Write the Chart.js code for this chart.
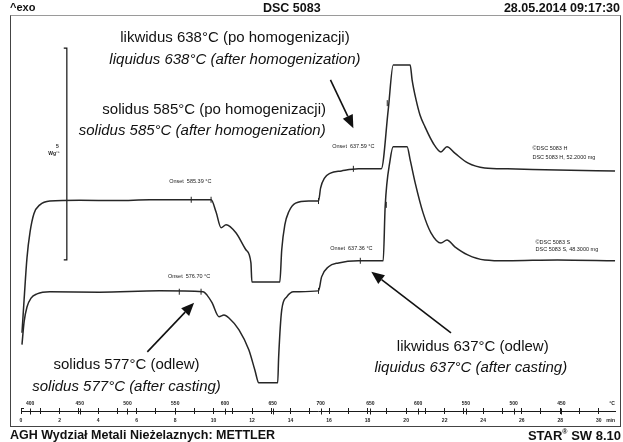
<!DOCTYPE html>
<html><head><meta charset="utf-8"><title>DSC 5083</title>
<script src="https://cdn.jsdelivr.net/npm/chart.js@4.4.1/dist/chart.umd.min.js"></script>
<style>
html,body{margin:0;padding:0;background:#fff;}
#wrap{position:relative;width:623px;height:442px;overflow:hidden;font-family:"Liberation Sans",Arial,Helvetica,sans-serif;color:#111;}
#c{position:absolute;left:0;top:0;}
#frame{position:absolute;left:10px;top:15px;width:609px;height:410px;border:1px solid #444;border-top-color:#9a9a9a;}
.t{position:absolute;font-weight:bold;white-space:nowrap;line-height:1;}
.t sup{font-size:7px;vertical-align:top;position:relative;top:-1px;}
</style></head><body>
<div id="wrap">
<div id="frame"></div>
<canvas id="c" width="623" height="442"></canvas>
<div class="t" style="left:10px;top:2px;font-size:11px;">^exo</div>
<div class="t" style="left:263px;top:2px;font-size:12.5px;">DSC 5083</div>
<div class="t" style="right:3px;top:2px;font-size:12.5px;">28.05.2014 09:17:30</div>
<div class="t" style="left:10px;top:429px;font-size:12.5px;">AGH Wydział Metali Nieżelaznych: METTLER</div>
<div class="t" style="right:2px;top:429px;font-size:13px;">STAR<sup>®</sup> SW 8.10</div>
</div>
<script>
// ---- data (time in min, heat flow in W/g, exo up) ----
const tH = [0.05,0.16,0.31,0.47,0.67,0.98,1.50,3.05,5.00,6.67,8.84,9.87,10.13,10.39,10.65,11.16,11.68,11.94,11.99,13.44,13.54,13.70,13.90,14.26,14.94,15.45,15.56,15.76,16.07,16.64,17.52,18.71,19.07,19.33,20.21,20.31,20.52,20.72,20.98,21.40,21.81,22.12,22.53,23.20,24.08,25.27,27.86,30.85];
const vH = [1.44,2.22,3.21,3.82,4.25,4.46,4.55,4.57,4.56,4.58,4.58,4.58,4.29,3.92,3.99,3.80,3.40,3.09,2.64,2.64,3.40,3.99,4.29,4.50,4.55,4.55,4.86,5.09,5.21,5.26,5.31,5.31,6.70,7.76,7.76,7.41,6.93,6.58,6.30,5.92,5.71,5.83,5.68,5.45,5.33,5.31,5.28,5.26];
const tS = [0.05,0.16,0.31,0.52,0.83,1.50,4.08,7.18,9.46,9.66,9.92,10.28,10.54,10.80,11.32,11.83,12.14,12.35,13.33,13.38,13.54,13.80,14.16,15.45,15.61,15.97,16.49,17.52,18.81,18.91,19.17,19.33,20.05,20.21,20.47,20.88,21.29,21.81,22.12,22.53,23.20,24.08,25.27,27.86,30.85];
const vS = [1.16,1.70,2.05,2.26,2.36,2.41,2.40,2.43,2.41,2.33,2.15,1.82,1.86,1.79,1.51,1.04,0.57,0.26,0.26,0.87,1.98,2.29,2.41,2.43,2.76,3.00,3.09,3.14,3.14,4.41,5.52,5.83,5.83,5.52,4.98,4.27,3.80,3.56,3.63,3.47,3.28,3.16,3.14,3.16,3.14];
// onset evaluation marks on the curves
const markHT = [8.84,9.87,15.45,17.26,19.02];
const markHV = [4.58,4.58,4.55,5.31,6.86];
const markST = [8.22,9.35,15.45,17.62,18.97];
const markSV = [2.41,2.41,2.43,3.14,4.46];
// 5 W/g scale bar
const scaleBarT = [2.22,2.38,2.38,2.22];
const scaleBarV = [8.16,8.16,3.16,3.16];
const scaleBarLabel = ['5','Wg\u207B\u00B9'];
// axes
const timeTicks = [0,1,2,3,4,5,6,7,8,9,10,11,12,13,14,15,16,17,18,19,20,21,22,23,24,25,26,27,28,29,30];
const timeUnit = 'min';
const timeUnitAt = 30.62;
const tempTickTimes = [0.47,3.05,5.53,8.01,10.59,13.07,15.56,18.14,20.62,23.10,25.58,28.06,30.70];
const tempLabels = ['400','450','500','550','600','650','700','650','600','550','500','450','\u00B0C'];
// onset labels
const onsetLabels = ['Onset  585.39 \u00B0C','Onset  576.70 \u00B0C','Onset  637.59 \u00B0C','Onset  637.36 \u00B0C'];
const onsetT = [8.79,8.73,17.26,17.16];
const onsetV = [5.02,2.76,5.83,3.44];
// curve names
const curveNames = ['\u00A9DSC 5083 H','DSC 5083 H, 52.2000 mg','\u00A9DSC 5083 S','DSC 5083 S, 48.3000 mg'];
const curveNameT = [26.56,26.56,26.72,26.72];
const curveNameV = [5.80,5.57,3.58,3.40];
// annotations
const annoText = ['likwidus 638\u00B0C (po homogenizacji)','liquidus 638\u00B0C (after homogenization)',
  'solidus 585\u00B0C (po homogenizacji)','solidus 585\u00B0C (after homogenization)',
  'solidus 577\u00B0C (odlew)','solidus 577\u00B0C (after casting)',
  'likwidus 637\u00B0C (odlew)','liquidus 637\u00B0C (after casting)'];
const annoItalic = [false,true,false,true,false,true,false,true];
const annoT = [11.11,11.11,10.03,9.41,5.48,5.48,23.46,23.36];
const annoV = [8.40,7.88,6.70,6.20,0.68,0.17,1.11,0.61];
const arrowFrom = [[16.07,7.41],[6.56,0.99],[22.33,1.44]];
const arrowTo = [[17.26,6.27],[8.99,2.15],[18.19,2.88]];

const FONT = '"Liberation Sans", Arial, sans-serif';
const pts = (xs, ys) => xs.map((x, i) => ({x, y: ys[i]}));

function drawArrow(ctx, x1, y1, x2, y2) {
  const a = Math.atan2(y2 - y1, x2 - x1), L = 13, W = 5.5;
  const bx = x2 - L * Math.cos(a), by = y2 - L * Math.sin(a);
  ctx.beginPath(); ctx.moveTo(x1, y1); ctx.lineTo(bx, by); ctx.lineWidth = 1.6; ctx.stroke();
  ctx.beginPath(); ctx.moveTo(x2, y2);
  ctx.lineTo(bx + W * Math.sin(a), by - W * Math.cos(a));
  ctx.lineTo(bx - W * Math.sin(a), by + W * Math.cos(a));
  ctx.closePath(); ctx.fill();
}

const overlay = {
  id: 'overlay',
  afterDraw(chart) {
    const {ctx} = chart; const xs = chart.scales.x, ys = chart.scales.y;
    const px = t => xs.getPixelForValue(t), py = v => ys.getPixelForValue(v);
    ctx.save();
    ctx.strokeStyle = '#1a1a1a'; ctx.fillStyle = '#1a1a1a';
    // time axis line with temperature tick marks
    const ay = Math.round(xs.top + 3) + 0.5;
    ctx.lineWidth = 1;
    ctx.beginPath(); ctx.moveTo(px(0), ay); ctx.lineTo(chart.chartArea.right, ay); ctx.stroke();
    ctx.beginPath(); ctx.moveTo(px(0), ay - 3); ctx.lineTo(px(0) + 3, ay - 3); ctx.stroke();
    tempTickTimes.slice(0, -1).forEach(t => {
      const x = Math.round(px(t)) + 0.5;
      ctx.beginPath(); ctx.moveTo(x, ay - 3); ctx.lineTo(x, ay + 3); ctx.stroke();
    });
    // small texts
    ctx.textAlign = 'center'; ctx.textBaseline = 'middle';
    ctx.font = '5.5px ' + FONT;
    onsetLabels.forEach((s, i) => ctx.fillText(s, px(onsetT[i]), py(onsetV[i])));
    ctx.textAlign = 'left';
    curveNames.forEach((s, i) => ctx.fillText(s, px(curveNameT[i]), py(curveNameV[i])));
    ctx.textAlign = 'right'; ctx.font = 'bold 5px ' + FONT;
    ctx.fillText(scaleBarLabel[0], px(scaleBarT[0]) - 5, py(5.83));
    ctx.fillText(scaleBarLabel[1], px(scaleBarT[0]) - 4, py(5.66));
    // annotations
    ctx.fillStyle = '#111'; ctx.strokeStyle = '#111';
    ctx.textAlign = 'center';
    annoText.forEach((s, i) => {
      ctx.font = (annoItalic[i] ? 'italic ' : '') + '15px ' + FONT;
      ctx.fillText(s, px(annoT[i]), py(annoV[i]));
    });
    arrowFrom.forEach((f, i) => drawArrow(ctx, px(f[0]), py(f[1]), px(arrowTo[i][0]), py(arrowTo[i][1])));
    ctx.restore();
  }
};

new Chart(document.getElementById('c'), {
  type: 'line',
  data: { datasets: [
    {label: 'DSC 5083 H', data: pts(tH, vH), borderColor: '#262626', borderWidth: 1.5, pointRadius: 0, cubicInterpolationMode: 'monotone', fill: false},
    {label: 'DSC 5083 S', data: pts(tS, vS), borderColor: '#262626', borderWidth: 1.5, pointRadius: 0, cubicInterpolationMode: 'monotone', fill: false},
    {label: 'scale', data: pts(scaleBarT, scaleBarV), borderColor: '#111', borderWidth: 1.2, pointRadius: 0, tension: 0, fill: false},
    {type: 'scatter', label: 'marks H', data: pts(markHT, markHV), pointStyle: 'line', rotation: 90, pointRadius: 3, borderColor: '#222', borderWidth: 1, showLine: false},
    {type: 'scatter', label: 'marks S', data: pts(markST, markSV), pointStyle: 'line', rotation: 90, pointRadius: 3, borderColor: '#222', borderWidth: 1, showLine: false}
  ]},
  options: {
    responsive: false, animation: false, devicePixelRatio: 1,
    layout: {padding: {left: 11, right: 4, top: 15, bottom: 18}},
    plugins: {legend: {display: false}, tooltip: {enabled: false}},
    scales: {
      y: {display: false, min: 0.02, max: 8.94},
      xT: {type: 'linear', position: 'bottom', weight: 0, min: -0.52, max: 30.9,
        afterBuildTicks: ax => { ax.ticks = tempTickTimes.map(v => ({value: v})); },
        afterFit: ax => { ax.height = 15; },
        grid: {display: false, drawTicks: false, tickLength: 0}, border: {display: false},
        ticks: {autoSkip: false, maxRotation: 0, padding: 8, color: '#222', font: {size: 5, family: FONT, weight: 'bold'},
          callback: (v, i) => tempLabels[i]}},
      x: {type: 'linear', position: 'bottom', weight: 1, min: -0.52, max: 30.9,
        afterBuildTicks: ax => { ax.ticks = timeTicks.map(v => ({value: v})).concat([{value: timeUnitAt}]); },
        afterFit: ax => { ax.height = 16; },
        grid: {drawOnChartArea: false, drawTicks: true, tickLength: 6, lineWidth: 1,
          color: c => (c.tick && c.tick.value === timeUnitAt) ? 'rgba(0,0,0,0)' : '#1a1a1a'},
        border: {display: false},
        ticks: {autoSkip: false, maxRotation: 0, padding: 4, color: '#222', font: {size: 5, family: FONT, weight: 'bold'},
          callback: (v) => v === timeUnitAt ? timeUnit : (v % 2 === 0 ? String(v) : '')}}
    }
  },
  plugins: [overlay]
});
</script>
</body></html>
